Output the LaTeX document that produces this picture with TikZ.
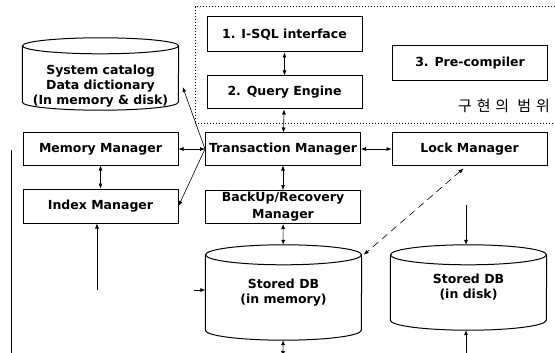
\documentclass[tikz,border=0pt]{standalone}
\usepackage{fontspec}
\setmainfont{DejaVu Sans}
\newfontfamily\krfont[LetterSpace=32]{Noto Sans CJK KR}
\usetikzlibrary{shapes.geometric, arrows.meta, positioning, calc}

\begin{document}
\begin{tikzpicture}[x=1pt, y=-1pt,
  box/.style={draw, line width=1pt, minimum width=155pt, minimum height=33pt, inner sep=1pt, align=center, font=\bfseries\fontsize{12.5}{13}\selectfont},
  db/.style={minimum width=156pt, inner sep=0pt, align=center, font=\bfseries\fontsize{12.5}{15}\selectfont},
  dbline/.style={line width=1pt},
  link/.style={line width=0.6pt, {Latex[length=5pt,width=4pt]}-{Latex[length=5pt,width=4pt]}},
  into/.style={line width=0.6pt, -{Latex[length=5pt,width=4pt]}}]
  \useasboundingbox (0,0) rectangle (555,353);

  % scope of the implementation
  \draw[line width=1pt, dotted] (555,7) -- (195,7) -- (195,124) -- (555,124);
  \node[font=\krfont\fontsize{15}{15}\selectfont, anchor=east, inner sep=0pt] (scope) at (550,106) {구현의 범위};

  % boxes
  \node[box, minimum height=35pt] (isql) at (284.5,34.5) {1. I-SQL interface};
  \node[box] (qe) at (284.5,92.5) {2. Query Engine};
  \node[box, minimum height=35pt] (prec) at (470,63.5) {3. Pre-compiler};
  \node[box, minimum height=32pt] (mm) at (100.5,149) {Memory Manager};
  \node[box, minimum height=32pt] (tm) at (283,149) {Transaction Manager};
  \node[box, minimum height=32pt] (lm) at (469.5,149) {Lock Manager};
  \node[box, minimum height=34pt] (im) at (100.5,206) {Index Manager};
  \node[box, font=\bfseries\fontsize{12.5}{17}\selectfont] (bk) at (283,207) {BackUp/Recovery\\Manager};

  % databases
  \node[db, minimum height=48pt] (cat) at (100.5,86) {System catalog\\Data dictionary\\(In memory \& disk)};
  \draw[dbline] ($(cat.north)+(0,-16)$) ellipse [x radius=78, y radius=8];
  \draw[dbline] ($(cat.north west)+(0,-16)$) -- ($(cat.south west)+(0,-8)$)
    arc[start angle=180, end angle=0, x radius=78, y radius=8] -- ($(cat.north east)+(0,-16)$);

  \node[db, minimum height=95pt] (smem) at (283.5,292.5) {Stored DB\\(in memory)};
  \draw[dbline] ($(smem.north)+(0,10)$) ellipse [x radius=78, y radius=10];
  \draw[dbline] ($(smem.north west)+(0,10)$) -- ($(smem.south west)+(0,-10)$)
    arc[start angle=180, end angle=0, x radius=78, y radius=10] -- ($(smem.north east)+(0,10)$);

  \node[db, minimum height=85pt] (sdisk) at (468.5,287.5) {Stored DB\\(in disk)};
  \draw[dbline] ($(sdisk.north)+(0,10)$) ellipse [x radius=78, y radius=10];
  \draw[dbline] ($(sdisk.north west)+(0,10)$) -- ($(sdisk.south west)+(0,-10)$)
    arc[start angle=180, end angle=0, x radius=78, y radius=10] -- ($(sdisk.north east)+(0,10)$);

  % free ends
  \coordinate (memout) at (283,356);
  \coordinate (diskin) at (466,205);
  \coordinate (diskout) at (466,356);
  \coordinate (idxin) at (97,290);
  \coordinate (memin) at (194,290);

  % connectors
  \draw[link] (isql) -- (qe);
  \draw[link] (qe) -- (tm);
  \draw[link] (tm) -- (mm);
  \draw[link] (tm) -- (lm);
  \draw[link] (mm) -- (im);
  \draw[link] (tm) -- (bk);
  \draw[link] (bk) -- (smem);
  \draw[link] (smem) -- (memout);
  \draw[into] (tm.west) -- ($(cat.east)+(4,1)$);
  \draw[into] (tm.west) -- (im.east);
  \draw[link, dash pattern=on 7pt off 5pt] ($(lm.south)+(-6,3)$) -- ($(smem.north east)+(2,10)$);
  \draw[into] (diskin) -- (diskin |- sdisk.north);
  \draw[into] (diskout) -- (diskout |- sdisk.south);
  \draw[into] (idxin) -- (im.south -| idxin);
  \draw[into] (memin) -- (smem.west |- memin);
  \draw[line width=0.6pt] (11,150) -- (11,353);
\end{tikzpicture}
\end{document}
